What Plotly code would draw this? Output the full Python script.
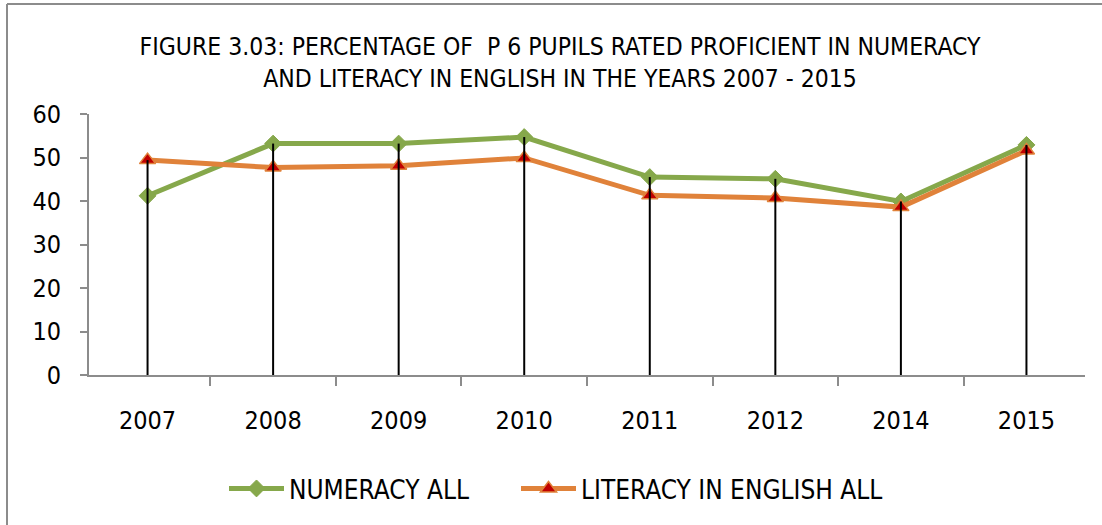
import plotly.graph_objects as go

# Survey years (2013 not surveyed)
years = ["2007", "2008", "2009", "2010", "2011", "2012", "2014", "2015"]

# Percentage of P 6 pupils rated proficient
numeracy_all = [41.2, 53.2, 53.2, 54.7, 45.5, 45.1, 39.9, 52.9]
literacy_english_all = [49.4, 47.7, 48.1, 49.9, 41.3, 40.7, 38.6, 51.6]

y_ticks = [0, 10, 20, 30, 40, 50, 60]

FONT = "DejaVu Sans Condensed, DejaVu Sans, sans-serif"
GREEN = "#86A84B"
ORANGE = "#E0823A"
DARK_RED = "#C00000"
AXIS_GREY = "#8C8C8C"

fig = go.Figure()

fig.add_trace(go.Scatter(
    x=years, y=numeracy_all, name="NUMERACY ALL",
    mode="lines+markers", legend="legend",
    line=dict(color=GREEN, width=5),
    marker=dict(symbol="diamond", size=13, color=GREEN,
                line=dict(color=GREEN, width=1)),
))

fig.add_trace(go.Scatter(
    x=years, y=literacy_english_all, name="LITERACY IN ENGLISH ALL",
    mode="lines+markers", legend="legend2",
    line=dict(color=ORANGE, width=5),
    marker=dict(symbol="triangle-up", size=14, color=DARK_RED,
                line=dict(color=ORANGE, width=1.5)),
))

# Drop lines from the highest value in each year down to the axis
drop_x, drop_y = [], []
for yr, a, b in zip(years, numeracy_all, literacy_english_all):
    drop_x += [yr, yr, None]
    drop_y += [0, max(a, b), None]
fig.add_trace(go.Scatter(
    x=drop_x, y=drop_y, mode="lines",
    line=dict(color="black", width=2),
    showlegend=False, hoverinfo="skip",
))

legend_style = dict(
    orientation="h", xanchor="left", yanchor="middle", y=-0.435,
    font=dict(family=FONT, size=26), itemwidth=55,
    bgcolor="rgba(0,0,0,0)",
)

fig.update_layout(
    width=1102, height=525,
    margin=dict(l=89, r=17, t=114, b=150, autoexpand=False),
    paper_bgcolor="white", plot_bgcolor="white",
    font=dict(family=FONT, size=25, color="black"),
    title=dict(
        text="FIGURE 3.03: PERCENTAGE OF  P 6 PUPILS RATED PROFICIENT IN NUMERACY"
             "<br>AND LITERACY IN ENGLISH IN THE YEARS 2007 - 2015",
        font=dict(family=FONT, size=24.5, color="black"),
        xref="container", x=560 / 1102, xanchor="center",
        yref="container", y=1 - 55 / 525, yanchor="middle",
    ),
    legend=dict(x=(224 - 89) / 996, **legend_style),
    legend2=dict(x=(516 - 89) / 996, **legend_style),
    showlegend=True,
)

fig.update_xaxes(
    type="category", categoryorder="array", categoryarray=years,
    showline=True, linecolor=AXIS_GREY, linewidth=2,
    tickson="boundaries", ticks="outside", ticklen=9, tickwidth=2,
    tickcolor=AXIS_GREY, showgrid=False, zeroline=False,
    ticklabelstandoff=22, automargin=False,
    tickfont=dict(family=FONT, size=25, color="black"),
)

fig.update_yaxes(
    range=[0, 60], tickvals=y_ticks,
    showline=True, linecolor=AXIS_GREY, linewidth=2,
    ticks="outside", ticklen=7, tickwidth=2, tickcolor=AXIS_GREY,
    showgrid=False, zeroline=False,
    ticklabelstandoff=14, automargin=False,
    tickfont=dict(family=FONT, size=25, color="black"),
)

# Chart frame (left and top edges)
fig.add_shape(type="line", xref="paper", yref="paper",
              x0=(7 - 89) / 996, x1=(7 - 89) / 996,
              y0=(375 - 4) / 261, y1=(375 - 540) / 261,
              line=dict(color=AXIS_GREY, width=2))
fig.add_shape(type="line", xref="paper", yref="paper",
              x0=(7 - 89) / 996, x1=(1110 - 89) / 996,
              y0=(375 - 4) / 261, y1=(375 - 4) / 261,
              line=dict(color=AXIS_GREY, width=2))

fig.write_html("out.html")
